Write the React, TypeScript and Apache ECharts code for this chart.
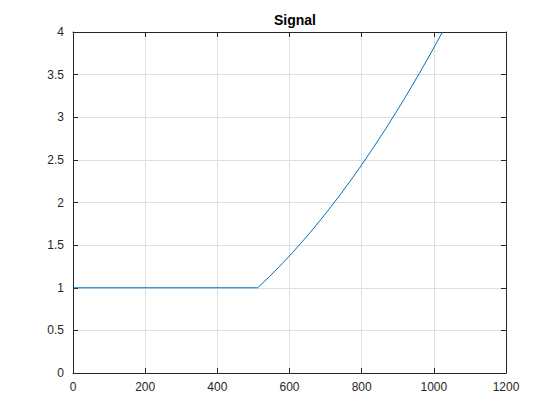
import React, { useEffect, useRef } from "react";
import * as echarts from "echarts";

const xValues = [0, 512, 544, 576, 608, 640, 672, 704, 736, 768, 800, 832, 864, 896, 928, 960, 992, 1024];
const yValues = [1, 1, 1.129, 1.266, 1.41, 1.563, 1.723, 1.891, 2.066, 2.25, 2.441, 2.641, 2.848, 3.063, 3.285, 3.516, 3.754, 4.0];
const xTicks = [0, 200, 400, 600, 800, 1000, 1200];
const yTicks = [0, 0.5, 1, 1.5, 2, 2.5, 3, 3.5, 4];
const title = "Signal";

export default function App() {
  const ref = useRef<HTMLDivElement>(null);
  useEffect(() => {
    if (!ref.current) return;
    const chart = echarts.init(ref.current, null, { renderer: "svg" });
    const axisColor = "#262626";
    const font = "Liberation Sans, Arial, sans-serif";
    const baseX = {
      type: "value" as const,
      min: 0,
      max: 1200,
      interval: 200,
      axisLine: { show: true, onZero: false, lineStyle: { color: axisColor, width: 1 } },
      axisTick: { show: true, inside: true, length: 5, lineStyle: { color: axisColor } },
    };
    const baseY = {
      type: "value" as const,
      min: 0,
      max: 4,
      interval: 0.5,
      axisLine: { show: true, onZero: false, lineStyle: { color: axisColor, width: 1 } },
      axisTick: { show: true, inside: true, length: 5, lineStyle: { color: axisColor } },
    };
    chart.setOption({
      animation: false,
      backgroundColor: "#ffffff",
      title: {
        text: title,
        left: 290,
        top: 8,
        textAlign: "center",
        textStyle: { fontFamily: font, fontSize: 14, fontWeight: "bold", color: "#000" },
      },
      grid: { left: 73, right: 54, top: 32, bottom: 47 },
      xAxis: [
        {
          ...baseX,
          position: "bottom",
          axisLabel: {
            color: axisColor,
            fontFamily: font,
            fontSize: 12,
            margin: 8,
            formatter: (v: number) => (xTicks.includes(v) ? String(v) : ""),
          },
          splitLine: { show: true, lineStyle: { color: "#dfdfdf", width: 1 } },
        },
        {
          ...baseX,
          position: "top",
          axisLabel: { show: false },
          splitLine: { show: false },
        },
      ],
      yAxis: [
        {
          ...baseY,
          position: "left",
          axisLabel: {
            color: axisColor,
            fontFamily: font,
            fontSize: 12,
            margin: 9,
            formatter: (v: number) => (yTicks.includes(v) ? String(v) : ""),
          },
          splitLine: { show: true, lineStyle: { color: "#dfdfdf", width: 1 } },
        },
        {
          ...baseY,
          position: "right",
          axisLabel: { show: false },
          splitLine: { show: false },
        },
      ],
      series: [
        {
          type: "line",
          data: xValues.map((x, i) => [x, yValues[i]]),
          showSymbol: false,
          smooth: false,
          lineStyle: { color: "#0072BD", width: 1 },
          clip: true,
        },
      ],
    });
    return () => chart.dispose();
  }, []);
  return <div ref={ref} style={{ width: 560, height: 420, position: "absolute", left: 0, top: 0 }} />;
}
